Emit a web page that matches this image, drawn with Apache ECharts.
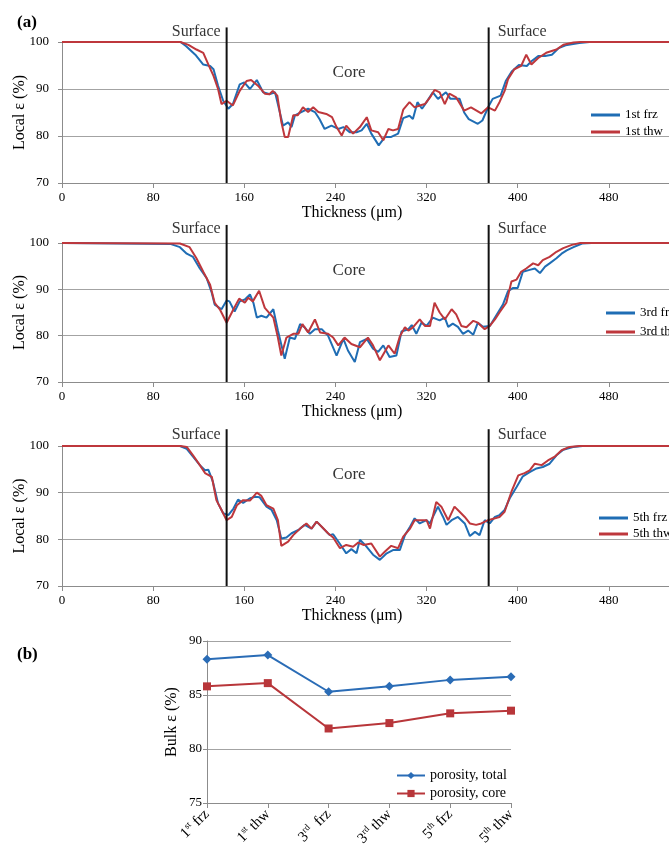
<!DOCTYPE html>
<html>
<head>
<meta charset="utf-8">
<script src="https://cdn.jsdelivr.net/npm/echarts@6/dist/echarts.min.js"></script>
<style>
html, body { margin: 0; padding: 0; background: #fff; }
#chart { width: 669px; height: 846px; }
</style>
</head>
<body>
<div id="chart"></div>
<script>
// local porosity profiles, [thickness um, local porosity %]
var frz1 = [[0,100],[104,100],[109,99.1],[117,97.3],[124,95.2],[130,94.9],[133,94.2],[137,90.7],[141.5,87.5],[146,85.8],[150,86.8],[156,91],[160,91.4],[165,90],[171,91.9],[176.5,89.3],[182.5,88.9],[187,89.3],[194,82.2],[198.5,82.9],[201.5,81.9],[204.5,84.4],[210,85.1],[216,85.8],[222,85.1],[226,83.6],[230.5,81.5],[236.5,82.2],[242.5,81.5],[247,81.9],[252.5,80.8],[258.5,80.8],[263,81.2],[267.5,82.6],[271.5,80.5],[278,78],[283.5,79.8],[289,79.8],[295,80.5],[299.5,83.8],[305,84.3],[308,83.6],[312,87.2],[316,85.8],[320,87.2],[325.5,89.3],[330,87.9],[337,89.3],[341,87.9],[349,87.9],[353,85],[357,83.6],[365,82.6],[369,83.3],[374,86.1],[378,87.9],[385,88.6],[389.5,91.7],[395,93.8],[401,95.1],[408,94.9],[412,95.9],[418,97],[424,97],[430,97.3],[436,98.7],[442,99.3],[454,99.8],[463,100],[560,100]];
var thw1 = [[0,100],[104,100],[111,99.4],[118,98.4],[124,97.7],[128.5,95.2],[133,92.8],[137,90],[140,86.8],[144.5,87.5],[150,86.5],[156,89.6],[162,91.7],[166,91.9],[172,90.7],[178,89],[182,88.9],[185,89.6],[189,88.6],[192.5,83],[195.5,79.8],[198.5,79.8],[203,84.4],[207,84.4],[211.5,86.1],[216,85.1],[220.5,86.1],[225,85.1],[232,84.7],[237,84],[241,81.9],[245.5,80.1],[249.5,82.2],[255.5,80.5],[261.5,81.9],[267.5,84],[271.5,81.2],[277.5,80.8],[282,79.1],[286.5,81.5],[290.5,81.2],[295,81.5],[299.5,85.6],[305,87.2],[309.5,86.1],[314,86.5],[318.5,86.8],[323,88.2],[327,89.8],[331.5,89.3],[336,86.8],[340,89],[346,88.2],[353,85.4],[359,86.1],[368,84.8],[374,86.1],[380,85.4],[384,87.2],[388.5,89.6],[391.5,92.1],[397,94.2],[403,94.9],[407.5,97.3],[412,95.2],[418,96.6],[425,97.7],[434,98.4],[440,99.4],[449,99.9],[455,100],[560,100]];
var frz3 = [[0,100],[50,99.9],[95,99.8],[103.5,99.1],[109.5,97.7],[115,97],[121,94.5],[127,92.4],[131.5,89.2],[134,86.7],[140,85.7],[144.5,87.6],[147,87.4],[151.5,85.2],[156,87.4],[160.5,87.8],[165,88.9],[168,87.1],[171,83.9],[175,84.3],[179.5,83.9],[185.5,85.7],[189.5,81.1],[195.5,75],[200,79.6],[204.5,79.3],[209,82.5],[213,81.8],[217.5,80.4],[222,81.4],[228,81.4],[233.5,80],[241,75.7],[247,79.3],[251,76.8],[257,74.3],[261.5,78.6],[267.5,79.3],[273,77.2],[277.5,76.5],[282,77.9],[287.5,75.4],[293.5,75.7],[298,80.9],[304,81.4],[307,82.3],[311,80.4],[315.5,82.8],[320,82.1],[325.5,83.9],[331.5,83.3],[336,83.9],[339,81.9],[343,82.6],[347.5,81.9],[352,80.4],[356.5,81.1],[361,80.2],[365,82.8],[369.5,81.9],[375.5,82.1],[381,84.3],[387,86.7],[391.5,89.6],[396,90.3],[400,90.3],[404.5,93.8],[410.5,94.2],[415,94.5],[419.5,93.5],[424,94.9],[428,95.6],[434,96.7],[438.5,97.7],[443,98.4],[449,99.1],[456.5,99.9],[465,100],[560,100]];
var thw3 = [[0,100],[103.5,99.9],[112,99.1],[118,96.7],[124,93.8],[130,91],[134,87.1],[138.5,85.7],[144.5,82.8],[150.5,85.7],[155.5,88],[160.5,87.1],[163.5,88.2],[167.5,87.4],[173,89.7],[178,86],[185.5,83.9],[189.5,79.6],[192.5,75.7],[197,79.6],[203,80.4],[207.5,80.4],[211,82.5],[216,80.7],[222,83.5],[226.5,80.7],[233.5,80.4],[238,79.6],[242.5,77.9],[248,79.6],[254,78.2],[261.5,77.5],[268.5,79.6],[273,77.9],[279,74.7],[286.5,77.9],[292,76.1],[296.5,79.8],[301,81.8],[304,81.1],[308,81.8],[314,83.5],[318.5,82.1],[323,82.1],[327,87.1],[331.5,85],[336,83.5],[342,85.7],[346,84.6],[350.5,82.1],[355,81.8],[361,83.2],[365,82.8],[371,81.4],[375.5,82.1],[380,83.5],[384,85],[390,87.1],[394.5,91.7],[399,92.1],[403,93.8],[407.5,94.5],[413.5,95.6],[418,95.2],[422,96.3],[428,97],[434,98.1],[440,98.9],[447.5,99.6],[455,100],[560,100]];
var frz5 = [[0,100],[103.5,100],[109.5,99.4],[115,97.7],[121,95.9],[125.5,94.8],[128.5,94.9],[132.5,92.3],[137,87.7],[141.5,85.6],[146,85.2],[150.5,86.6],[154.5,88.5],[159,87.8],[165,88.8],[169.5,89.1],[173.5,89],[179.5,87],[184,86.3],[188.5,84.1],[192.5,80.2],[197,80.4],[201.5,81.3],[207.5,82],[213,83.1],[219,82.3],[223.5,83.8],[229.5,82.3],[235,80.9],[238,81.1],[244,79],[249.5,77],[254,77.9],[258.5,77],[261.5,79.9],[266,78.8],[273,76.7],[279,75.6],[285,77],[290.5,77.7],[296.5,77.7],[301,80.9],[305.5,82.7],[309.5,84.5],[314,83.4],[320,84.1],[323,83.4],[325.5,84.8],[330,87],[334.5,84.8],[337.5,83.1],[342,84.1],[347.5,84.8],[353.5,83.4],[358,80.7],[362.5,81.6],[366.5,80.9],[371,84.1],[375.5,83.4],[380,84.8],[384,85.2],[388.5,86.3],[393,88.8],[399,91.2],[404.5,93.5],[410.5,94.4],[416.5,95.2],[422,95.5],[428,96.2],[434,98],[440,99.2],[448.5,99.8],[457,100],[560,100]];
var thw5 = [[0,100],[104,100],[109.5,99.8],[115,98],[121,95.9],[125.5,94.2],[131.5,93.4],[135.5,88.4],[140,86.3],[144.5,84.1],[149,84.8],[153.5,87.3],[159,88.4],[165,88.3],[171,90],[175,89.3],[179.5,87.3],[185.5,86.6],[189.5,84.1],[192.5,78.6],[198.5,79.5],[203,80.9],[209,82.3],[214.5,83.4],[219,82.3],[223.5,83.8],[228,82.7],[233.5,81.3],[238,80.4],[244,78.1],[249.5,78.8],[255.5,78.4],[260,79.3],[264.5,78.8],[271.5,79.1],[279,76.3],[283.5,77.4],[289,78.6],[295,78.1],[299.5,80.6],[305.5,82.3],[309.5,84.1],[315.5,84.1],[320,84.1],[323,82.3],[328.5,88],[333,87],[339,84.1],[344.5,87],[349,85.9],[353.5,84.8],[358,83.4],[363.5,83.1],[368,83.4],[374,84.1],[380,84.5],[384,84.8],[388.5,85.9],[394.5,90.2],[400.5,93.7],[406,94.2],[410.5,94.8],[415,96.2],[421,95.9],[426.5,96.9],[432.5,97.7],[438.5,99.1],[445.5,99.8],[454,100],[560,100]];

// surface / core boundaries (um) and annotation heights per panel
var boundaries = [144.5, 374.5];
var coreX = 252;
var lineTops = [103.1, 103.9, 103.6];
var surfaceY = [102.1, 103.0, 102.5];
var coreY = [93.4, 94.0, 93.8];

var xTicks = { min: 0, max: 560, interval: 80 };
var yTicks = { min: 70, max: 100, interval: 10 };

// bulk porosity (b)
var stages = ['1st frz', '1st thw', '3rd frz', '3rd thw', '5th frz', '5th thw'];
var stageNum = ['1', '1', '3', '3', '5', '5'];
var stageSup = ['st', 'st', 'rd', 'rd', 'th', 'th'];
var stageStep = ['frz', 'thw', ' frz', 'thw', 'frz', 'thw'];
var bulkTotal = [88.3, 88.7, 85.3, 85.8, 86.4, 86.7];
var bulkCore = [85.8, 86.1, 81.9, 82.4, 83.3, 83.55];

var FONT = 'Liberation Serif';
var BLUE = '#1f6db4';
var RED = '#be373c';
var GRID = '#a3a3a3';

var chart = echarts.init(document.getElementById('chart'));

var panelTops = [42, 243, 446];
var panelHeights = [141, 139, 140];
var panels = [[frz1, thw1, '1st'], [frz3, thw3, '3rd'], [frz5, thw5, '5th']];
var legendPos = [[586, 102, 1], [601, 300, 3], [594, 505, 0]];

var grids = [], xAxes = [], yAxes = [], series = [], legends = [];

panels.forEach(function (p, i) {
    // plot runs past the right edge of the page, as in the cropped original
    grids.push({ left: 62, width: 638, top: panelTops[i], height: panelHeights[i], outerBoundsMode: 'none' });
    xAxes.push({
        type: 'value', gridIndex: i, min: xTicks.min, max: xTicks.max, interval: xTicks.interval,
        name: 'Thickness (μm)', nameLocation: 'middle', nameGap: 20,
        nameTextStyle: { fontFamily: FONT, fontSize: 16, color: '#000', padding: [0, 58, 0, 0] },
        axisLine: { onZero: false, lineStyle: { color: '#8c8c8c' } },
        axisTick: { show: true, length: 5, lineStyle: { color: '#8c8c8c' } },
        axisLabel: { fontFamily: FONT, fontSize: 13, color: '#000', margin: 8 },
        splitLine: { show: false }
    });
    yAxes.push({
        type: 'value', gridIndex: i, min: yTicks.min, max: yTicks.max, interval: yTicks.interval,
        name: 'Local ε (%)', nameLocation: 'middle', nameGap: 34, nameMoveOverlap: false,
        nameTextStyle: { fontFamily: FONT, fontSize: 16, color: '#000' },
        axisLine: { show: true, lineStyle: { color: '#8c8c8c' } },
        axisTick: { show: true, length: 4, lineStyle: { color: '#8c8c8c' } },
        axisLabel: { fontFamily: FONT, fontSize: 13, color: '#000', margin: 13 },
        splitLine: { lineStyle: { color: GRID, width: 1 } }
    });
    var frzName = p[2] + ' frz', thwName = p[2] + ' thw';
    series.push({
        name: frzName, type: 'line', xAxisIndex: i, yAxisIndex: i, data: p[0],
        showSymbol: false, symbol: 'none', lineStyle: { color: BLUE, width: 2 }, itemStyle: { color: BLUE }, z: 3
    });
    series.push({
        name: thwName, type: 'line', xAxisIndex: i, yAxisIndex: i, data: p[1],
        showSymbol: false, symbol: 'none', lineStyle: { color: RED, width: 2 }, itemStyle: { color: RED }, z: 4
    });
    boundaries.forEach(function (b) {
        series.push({
            type: 'line', xAxisIndex: i, yAxisIndex: i, data: [[b, yTicks.min], [b, lineTops[i]]],
            clip: false, symbol: 'none', silent: true, z: 6,
            lineStyle: { color: '#111', width: 2 }
        });
    });
    series.push({
        type: 'scatter', xAxisIndex: i, yAxisIndex: i, clip: false, symbolSize: 0, silent: true,
        label: { show: true, fontFamily: FONT, fontSize: 16, color: '#000' },
        data: [
            { value: [boundaries[0], surfaceY[i]], label: { formatter: 'Surface', position: 'left', distance: 6 } },
            { value: [boundaries[1], surfaceY[i]], label: { formatter: 'Surface', position: 'right', distance: 9 } },
            { value: [coreX, coreY[i]], label: { formatter: 'Core', position: 'inside', fontSize: 17 } }
        ]
    });
    legends.push({
        data: [frzName, thwName], orient: 'vertical', left: legendPos[i][0], top: legendPos[i][1],
        itemGap: legendPos[i][2], itemWidth: 29, itemHeight: 3, icon: 'rect', itemTextGap: 4,
        textStyle: { fontFamily: FONT, fontSize: 13, color: '#000', lineHeight: 16 }
    });
});

// (b)
grids.push({ left: 207, width: 304, top: 641, height: 162, outerBoundsMode: 'none' });
xAxes.push({
    type: 'category', gridIndex: 3, data: stages, boundaryGap: false,
    axisLine: { lineStyle: { color: '#8c8c8c' } },
    axisTick: { show: true, length: 5, alignWithLabel: true, lineStyle: { color: '#8c8c8c' } },
    axisLabel: {
        rotate: 45, margin: 9, interval: 0,
        formatter: function (v, idx) {
            return '{n|' + stageNum[idx] + '}{s|' + stageSup[idx] + '}{n| ' + stageStep[idx] + '}';
        },
        rich: {
            n: { fontFamily: FONT, fontSize: 15, color: '#000', lineHeight: 17 },
            s: { fontFamily: FONT, fontSize: 9, color: '#000', lineHeight: 17, verticalAlign: 'top', padding: [0, 0, 6, 0] }
        }
    }
});
yAxes.push({
    type: 'value', gridIndex: 3, min: 75, max: 90, interval: 5,
    name: 'Bulk ε (%)', nameLocation: 'middle', nameGap: 27,
    nameTextStyle: { fontFamily: FONT, fontSize: 16, color: '#000' },
    axisLine: { show: true, lineStyle: { color: '#8c8c8c' } },
    axisTick: { show: true, length: 4, lineStyle: { color: '#8c8c8c' } },
    axisLabel: { fontFamily: FONT, fontSize: 13, color: '#000', margin: 5 },
    splitLine: { lineStyle: { color: GRID, width: 1 } }
});
series.push({
    name: 'porosity, total', type: 'line', xAxisIndex: 3, yAxisIndex: 3, data: bulkTotal,
    symbol: 'diamond', symbolSize: 9, lineStyle: { color: '#2a6cb6', width: 2 }, itemStyle: { color: '#2a6cb6' }
});
series.push({
    name: 'porosity, core', type: 'line', xAxisIndex: 3, yAxisIndex: 3, data: bulkCore,
    symbol: 'rect', symbolSize: 8, lineStyle: { color: '#b8363a', width: 2 }, itemStyle: { color: '#b8363a' }
});
legends.push({
    data: ['porosity, total', 'porosity, core'], orient: 'vertical', left: 391, top: 762,
    itemGap: 1, itemWidth: 28, itemHeight: 9, itemTextGap: 3,
    textStyle: { fontFamily: FONT, fontSize: 14, color: '#000', lineHeight: 17 }
});

chart.setOption({
    animation: false,
    backgroundColor: '#fff',
    title: [
        { text: '(a)', left: 12, top: 9, textStyle: { fontFamily: FONT, fontSize: 17, fontWeight: 'bold', color: '#000' } },
        { text: '(b)', left: 12, top: 641, textStyle: { fontFamily: FONT, fontSize: 17, fontWeight: 'bold', color: '#000' } }
    ],
    legend: legends,
    grid: grids,
    xAxis: xAxes,
    yAxis: yAxes,
    series: series
});
</script>
</body>
</html>
